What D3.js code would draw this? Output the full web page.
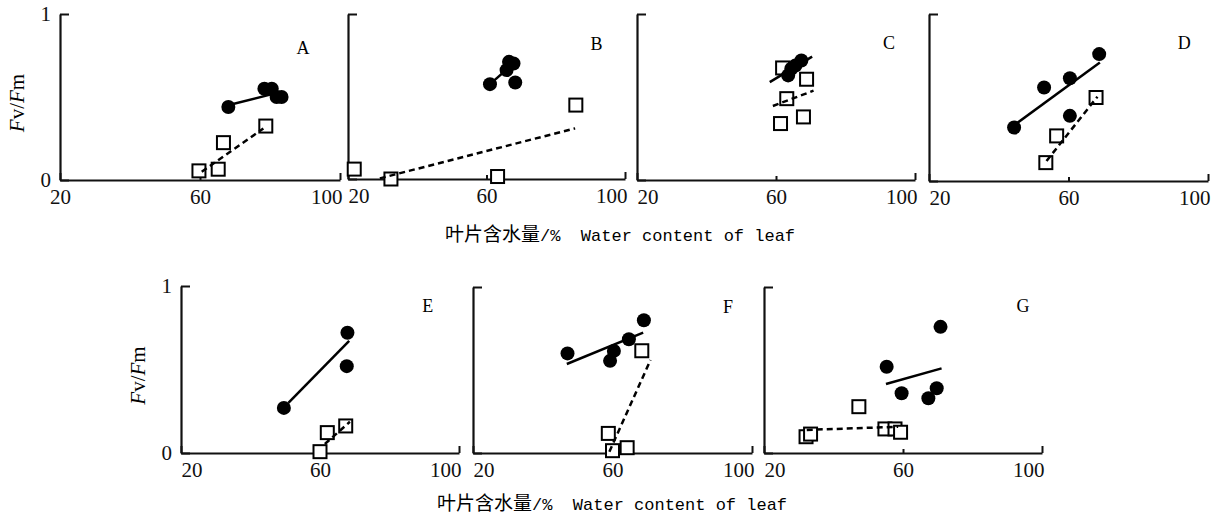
<!DOCTYPE html>
<html>
<head>
<meta charset="utf-8">
<script src="https://cdn.jsdelivr.net/npm/d3@7"></script>
<style>
  body { margin: 0; background: #fff; }
  svg { display: block; }
  .tick text { font-family: "Liberation Serif", serif; font-size: 21px; fill: #111; }
</style>
</head>
<body>
<div id="chart"></div>
<script>
var svgWidth = 1221;
var svgHeight = 517;

// Axis ticks shared by every panel
var xTicks = [20, 60, 100];
var yTicks = [0, 1];
var panelNames = ["A", "B", "C", "D", "E", "F", "G"];

// Filled circles (series 1) per panel: [water content %, Fv/Fm]
var circlesA = [[68.1, 0.44], [78.4, 0.55], [80.5, 0.55], [81.9, 0.50], [83.3, 0.50]];
var circlesB = [[61.0, 0.575], [68.3, 0.585], [65.8, 0.66], [66.5, 0.71], [67.8, 0.70]];
var circlesC = [[63.5, 0.63], [64.4, 0.67], [65.6, 0.69], [67.3, 0.72]];
var circlesD = [[44.4, 0.32], [53.0, 0.56], [60.4, 0.615], [68.8, 0.76], [60.4, 0.39]];
var circlesE = [[49.6, 0.27], [67.9, 0.72], [67.7, 0.52]];
var circlesF = [[47.1, 0.60], [59.3, 0.555], [60.4, 0.615], [64.7, 0.685], [69.0, 0.80]];
var circlesG = [[55.3, 0.52], [59.6, 0.36], [67.3, 0.33], [69.7, 0.39], [70.8, 0.76]];

// Open squares (series 2) per panel
var squaresA = [[59.7, 0.055], [65.2, 0.065], [66.7, 0.225], [78.8, 0.325]];
var squaresB = [[21.8, 0.06], [32.4, 0.0], [63.2, 0.015], [85.8, 0.448]];
var squaresC = [[61.9, 0.675], [68.8, 0.607], [63.1, 0.49], [61.3, 0.34], [67.9, 0.38]];
var squaresD = [[53.5, 0.11], [56.6, 0.27], [67.9, 0.50]];
var squaresE = [[60.0, 0.008], [62.1, 0.122], [67.4, 0.162]];
var squaresF = [[58.8, 0.118], [60.0, 0.014], [64.2, 0.032], [68.4, 0.616]];
var squaresG = [[32.1, 0.098], [33.4, 0.114], [47.3, 0.279], [54.8, 0.145], [57.7, 0.145], [59.3, 0.125]];

// Fitted lines: [[x1, y1], [x2, y2]]
var solidA = [[68.0, 0.45], [82.0, 0.525]];
var solidB = [[61.0, 0.575], [67.3, 0.69]];
var solidC = [[58.2, 0.59], [70.4, 0.743]];
var solidD = [[45.1, 0.345], [69.0, 0.71]];
var solidE = [[50.9, 0.30], [68.4, 0.672]];
var solidF = [[46.9, 0.536], [68.8, 0.725]];
var solidG = [[55.1, 0.416], [71.1, 0.51]];

var dashedA = [[60.5, 0.05], [78.1, 0.31]];
var dashedB = [[29.2, 0.004], [85.6, 0.307]];
var dashedC = [[59.1, 0.446], [70.8, 0.538]];
var dashedD = [[53.7, 0.12], [68.3, 0.505]];
var dashedE = [[61.4, 0.054], [68.6, 0.187]];
var dashedF = [[59.1, 0.008], [70.9, 0.56]];
var dashedG = [[32.3, 0.139], [58.6, 0.158]];

var circleSets = [circlesA, circlesB, circlesC, circlesD, circlesE, circlesF, circlesG];
var squareSets = [squaresA, squaresB, squaresC, squaresD, squaresE, squaresF, squaresG];
var solidSets = [solidA, solidB, solidC, solidD, solidE, solidF, solidG];
var dashedSets = [dashedA, dashedB, dashedC, dashedD, dashedE, dashedF, dashedG];

// Layout of each panel frame (pixels) and where its letter sits (data units)
var layout = [
  { left: 60, right: 340, top: 14, bottom: 180, lx: 89.4, ly: 0.795, yLabels: true, firstMid: true },
  { left: 348, right: 625, top: 14, bottom: 179, lx: 91.8, ly: 0.82 },
  { left: 637, right: 915, top: 14, bottom: 180, lx: 92.5, ly: 0.83 },
  { left: 929, right: 1208, top: 14, bottom: 181, lx: 93.2, ly: 0.83 },
  { left: 181, right: 459, top: 286, bottom: 453, lx: 91.0, ly: 0.88, yLabels: true },
  { left: 473, right: 752, top: 287, bottom: 453, lx: 93.1, ly: 0.88 },
  { left: 764, right: 1042, top: 287, bottom: 453, lx: 94.5, ly: 0.89 }
];

var svg = d3.select("#chart")
  .append("svg")
  .attr("width", svgWidth)
  .attr("height", svgHeight);

var line = d3.line();

layout.forEach(function (p, i) {
  var x = d3.scaleLinear().domain([20, 100]).range([p.left, p.right]);
  var y = d3.scaleLinear().domain([0, 1]).range([p.bottom, p.top]);

  var g = svg.append("g");

  // x axis
  var xAxis = g.append("g")
    .attr("transform", `translate(0, ${p.bottom})`)
    .call(d3.axisBottom(x).tickValues(xTicks).tickSizeInner(-6).tickSizeOuter(0).tickPadding(9));
  xAxis.select(".domain").attr("stroke", "#111").attr("stroke-width", 2.2);
  xAxis.selectAll(".tick line")
    .attr("stroke", "#111")
    .attr("stroke-width", 2)
    .attr("y2", d => d === 60 ? -4 : -7);
  xAxis.selectAll(".tick text")
    .attr("text-anchor", function (d) {
      if (d === 100) return "end";
      if (d === 20 && !p.firstMid) return "start";
      return "middle";
    })
    .attr("dx", function (d) { return d === 100 ? 2 : 0; });

  // y axis
  var yAxis = g.append("g")
    .attr("transform", `translate(${p.left}, 0)`)
    .call(d3.axisLeft(y).tickValues(yTicks).tickSizeInner(-9).tickSizeOuter(0).tickPadding(9)
      .tickFormat(p.yLabels ? d3.format("d") : function () { return ""; }));
  yAxis.select(".domain").attr("stroke", "#111").attr("stroke-width", 2.2);
  yAxis.selectAll(".tick line").attr("stroke", "#111").attr("stroke-width", 2);

  // squares
  g.selectAll("rect.sq")
    .data(squareSets[i])
    .enter()
    .append("rect")
    .attr("class", "sq")
    .attr("x", d => x(d[0]) - 6.5)
    .attr("y", d => y(d[1]) - 6.5)
    .attr("width", 13)
    .attr("height", 13)
    .attr("fill", "#fff")
    .attr("stroke", "#000")
    .attr("stroke-width", 2);

  // circles
  g.selectAll("circle")
    .data(circleSets[i])
    .enter()
    .append("circle")
    .attr("cx", d => x(d[0]))
    .attr("cy", d => y(d[1]))
    .attr("r", 7)
    .attr("fill", "#000");

  // fitted lines
  g.append("path")
    .attr("d", line(solidSets[i].map(d => [x(d[0]), y(d[1])])))
    .attr("stroke", "#000")
    .attr("stroke-width", 2.5)
    .attr("fill", "none");

  g.append("path")
    .attr("d", line(dashedSets[i].map(d => [x(d[0]), y(d[1])])))
    .attr("stroke", "#000")
    .attr("stroke-width", 2.5)
    .attr("stroke-dasharray", "6,4")
    .attr("fill", "none");

  // panel letter
  g.append("text")
    .attr("x", x(p.lx))
    .attr("y", y(p.ly))
    .attr("dy", "0.35em")
    .attr("text-anchor", "middle")
    .style("font-family", "Liberation Serif, serif")
    .style("font-size", "18px")
    .text(panelNames[i]);

  // y title for the first panel of each row
  if (p.yLabels) {
    var yt = g.append("text")
      .attr("transform", `translate(${p.left - 43}, ${(p.top + p.bottom) / 2 + 6}) rotate(-90)`)
      .attr("text-anchor", "middle")
      .attr("dy", "0.35em")
      .style("font-family", "Liberation Serif, serif")
      .style("font-size", "21px");
    yt.append("tspan").style("font-style", "italic").text("F");
    yt.append("tspan").text("v/");
    yt.append("tspan").style("font-style", "italic").text("F");
    yt.append("tspan").text("m");
  }
});

// x titles
[[445, 241], [437, 510]].forEach(function (pos) {
  var t = svg.append("text")
    .attr("x", pos[0])
    .attr("y", pos[1])
    .style("font-size", "19px");
  t.append("tspan")
    .style("font-family", "Noto Sans CJK SC, sans-serif")
    .text("叶片含水量");
  t.append("tspan")
    .style("font-family", "Liberation Mono, monospace")
    .style("font-size", "17px")
    .attr("xml:space", "preserve")
    .text("/%  Water content of leaf");
});
</script>
</body>
</html>
